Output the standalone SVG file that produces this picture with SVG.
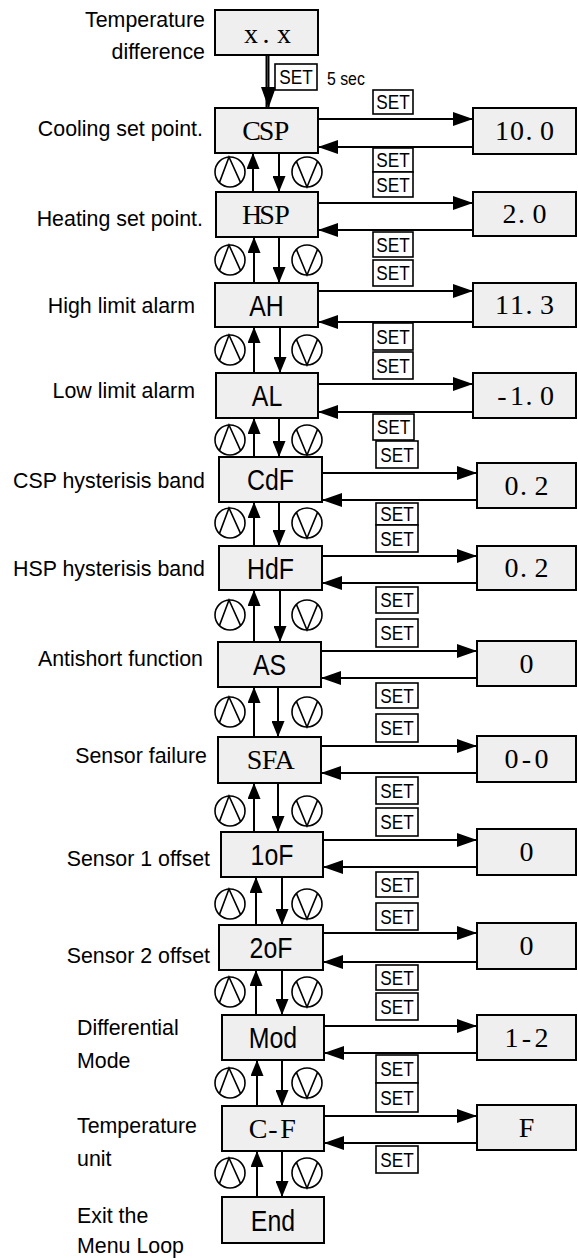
<svg xmlns="http://www.w3.org/2000/svg" xmlns:xlink="http://www.w3.org/1999/xlink" width="578" height="1258" viewBox="0 0 578 1258">
<style>
.box{fill:#efefef;stroke:#000;stroke-width:2}
.set{fill:#fff;stroke:#000;stroke-width:1.6}
.ln{stroke:#000;stroke-width:2;fill:none}
.lbl{font-family:'Liberation Sans',Arial,sans-serif;font-size:23px;fill:#000}
.end{text-anchor:end}
.nt{font-family:'Liberation Sans',Arial,sans-serif;font-size:30px;text-anchor:middle;fill:#000}
.st{font-family:'Liberation Serif','Times New Roman',serif;font-size:28px;text-anchor:middle;fill:#000}
.sett{font-family:'Liberation Sans',Arial,sans-serif;font-size:20.5px;text-anchor:middle;fill:#000}
.ic{fill:#fff;stroke:#000;stroke-width:1.6}
.icl{fill:none;stroke:#000;stroke-width:1.6}
</style>
<defs>
<marker id="ah" viewBox="0 0 20 14" refX="20" refY="7" markerWidth="20" markerHeight="14" markerUnits="userSpaceOnUse" orient="auto"><path d="M0,0 L20,7 L0,14 z" fill="#000"/></marker>
<marker id="av" viewBox="0 0 16 13" refX="16" refY="6.5" markerWidth="16" markerHeight="13" markerUnits="userSpaceOnUse" orient="auto"><path d="M0,0 L16,6.5 L0,13 z" fill="#000"/></marker>
<marker id="ab" viewBox="0 0 21 15" refX="21" refY="7.5" markerWidth="21" markerHeight="15" markerUnits="userSpaceOnUse" orient="auto"><path d="M0,0 L21,7.5 L0,15 z" fill="#000"/></marker>
<g id="upkey"><circle class="ic" cx="0" cy="0" r="15"/><path class="icl" d="M-10.6,10.6 L-1,-15 L10.6,10.6"/></g>
<g id="dnkey"><circle class="ic" cx="0" cy="0" r="15"/><path class="icl" d="M-10.6,-10.6 L0,15 L10.6,-10.6"/></g>
</defs>

<g id="labels">
<text class="lbl end" transform="translate(205,27) scale(0.93,1)">Temperature</text>
<text class="lbl end" transform="translate(205,59) scale(0.93,1)">difference</text>
<text class="lbl end" transform="translate(203,136) scale(0.93,1)">Cooling set point.</text>
<text class="lbl end" transform="translate(203,226) scale(0.93,1)">Heating set point.</text>
<text class="lbl end" transform="translate(195,313) scale(0.93,1)">High limit alarm</text>
<text class="lbl end" transform="translate(195,398) scale(0.93,1)">Low limit alarm</text>
<text class="lbl end" transform="translate(205,488) scale(0.93,1)">CSP hysterisis band</text>
<text class="lbl end" transform="translate(205,576) scale(0.93,1)">HSP hysterisis band</text>
<text class="lbl end" transform="translate(203,666) scale(0.93,1)">Antishort function</text>
<text class="lbl end" transform="translate(207,763) scale(0.93,1)">Sensor failure</text>
<text class="lbl end" transform="translate(210,866) scale(0.93,1)">Sensor 1 offset</text>
<text class="lbl end" transform="translate(210,963) scale(0.93,1)">Sensor 2 offset</text>
<text class="lbl" transform="translate(77,1035) scale(0.93,1)">Differential</text>
<text class="lbl" transform="translate(77,1068) scale(0.93,1)">Mode</text>
<text class="lbl" transform="translate(77,1133) scale(0.93,1)">Temperature</text>
<text class="lbl" transform="translate(77,1166) scale(0.93,1)">unit</text>
<text class="lbl" transform="translate(77,1223) scale(0.93,1)">Exit the</text>
<text class="lbl" transform="translate(77,1253) scale(0.93,1)">Menu Loop</text>
</g>

<g id="connectors">
<line class="ln" x1="266.5" y1="55" x2="266.5" y2="107" stroke-width="1.4"/>
<line class="ln" x1="268.5" y1="55" x2="268.5" y2="108" stroke-width="1.4" marker-end="url(#ab)"/>
<line class="ln" x1="318" y1="119" x2="473" y2="119" marker-end="url(#ah)"/>
<line class="ln" x1="473" y1="147" x2="318" y2="147" marker-end="url(#ah)"/>
<line class="ln" x1="318" y1="203" x2="473" y2="203" marker-end="url(#ah)"/>
<line class="ln" x1="473" y1="230" x2="318" y2="230" marker-end="url(#ah)"/>
<line class="ln" x1="318" y1="291" x2="473" y2="291" marker-end="url(#ah)"/>
<line class="ln" x1="473" y1="322" x2="318" y2="322" marker-end="url(#ah)"/>
<line class="ln" x1="318" y1="384" x2="473" y2="384" marker-end="url(#ah)"/>
<line class="ln" x1="473" y1="412" x2="318" y2="412" marker-end="url(#ah)"/>
<line class="ln" x1="322" y1="473" x2="477" y2="473" marker-end="url(#ah)"/>
<line class="ln" x1="477" y1="500" x2="322" y2="500" marker-end="url(#ah)"/>
<line class="ln" x1="322" y1="556" x2="477" y2="556" marker-end="url(#ah)"/>
<line class="ln" x1="477" y1="583" x2="322" y2="583" marker-end="url(#ah)"/>
<line class="ln" x1="321" y1="651" x2="477" y2="651" marker-end="url(#ah)"/>
<line class="ln" x1="477" y1="678" x2="321" y2="678" marker-end="url(#ah)"/>
<line class="ln" x1="321" y1="746" x2="477" y2="746" marker-end="url(#ah)"/>
<line class="ln" x1="477" y1="773" x2="321" y2="773" marker-end="url(#ah)"/>
<line class="ln" x1="323" y1="840" x2="477" y2="840" marker-end="url(#ah)"/>
<line class="ln" x1="477" y1="867" x2="323" y2="867" marker-end="url(#ah)"/>
<line class="ln" x1="323" y1="933" x2="477" y2="933" marker-end="url(#ah)"/>
<line class="ln" x1="477" y1="962" x2="323" y2="962" marker-end="url(#ah)"/>
<line class="ln" x1="322" y1="1026" x2="477" y2="1026" marker-end="url(#ah)"/>
<line class="ln" x1="477" y1="1053" x2="324" y2="1053" marker-end="url(#ah)"/>
<line class="ln" x1="322" y1="1116" x2="477" y2="1116" marker-end="url(#ah)"/>
<line class="ln" x1="477" y1="1143" x2="324" y2="1143" marker-end="url(#ah)"/>

<line class="ln" x1="253" y1="192" x2="253" y2="153" marker-end="url(#av)"/>
<line class="ln" x1="279" y1="153" x2="279" y2="192" marker-end="url(#av)"/>
<line class="ln" x1="254" y1="283" x2="254" y2="237" marker-end="url(#av)"/>
<line class="ln" x1="279" y1="237" x2="279" y2="283" marker-end="url(#av)"/>
<line class="ln" x1="254" y1="373" x2="254" y2="327" marker-end="url(#av)"/>
<line class="ln" x1="280" y1="327" x2="280" y2="373" marker-end="url(#av)"/>
<line class="ln" x1="254" y1="457" x2="254" y2="418" marker-end="url(#av)"/>
<line class="ln" x1="279" y1="418" x2="279" y2="457" marker-end="url(#av)"/>
<line class="ln" x1="254" y1="546" x2="254" y2="502" marker-end="url(#av)"/>
<line class="ln" x1="279" y1="502" x2="279" y2="546" marker-end="url(#av)"/>
<line class="ln" x1="254" y1="642" x2="254" y2="590" marker-end="url(#av)"/>
<line class="ln" x1="280" y1="590" x2="280" y2="642" marker-end="url(#av)"/>
<line class="ln" x1="254" y1="737" x2="254" y2="687" marker-end="url(#av)"/>
<line class="ln" x1="278" y1="687" x2="278" y2="737" marker-end="url(#av)"/>
<line class="ln" x1="254" y1="832" x2="254" y2="783" marker-end="url(#av)"/>
<line class="ln" x1="278" y1="783" x2="278" y2="832" marker-end="url(#av)"/>
<line class="ln" x1="256" y1="925" x2="256" y2="877" marker-end="url(#av)"/>
<line class="ln" x1="282" y1="877" x2="282" y2="925" marker-end="url(#av)"/>
<line class="ln" x1="256" y1="1015" x2="256" y2="970" marker-end="url(#av)"/>
<line class="ln" x1="282" y1="970" x2="282" y2="1015" marker-end="url(#av)"/>
<line class="ln" x1="257" y1="1106" x2="257" y2="1060" marker-end="url(#av)"/>
<line class="ln" x1="282" y1="1060" x2="282" y2="1106" marker-end="url(#av)"/>
<line class="ln" x1="257" y1="1197" x2="257" y2="1151" marker-end="url(#av)"/>
<line class="ln" x1="282" y1="1151" x2="282" y2="1197" marker-end="url(#av)"/>
</g>

<g id="keys">
<use xlink:href="#upkey" x="230" y="172"/><use xlink:href="#dnkey" x="307" y="172"/>
<use xlink:href="#upkey" x="230" y="260"/><use xlink:href="#dnkey" x="307" y="260"/>
<use xlink:href="#upkey" x="230" y="350"/><use xlink:href="#dnkey" x="307" y="350"/>
<use xlink:href="#upkey" x="230" y="440"/><use xlink:href="#dnkey" x="307" y="440"/>
<use xlink:href="#upkey" x="230" y="523"/><use xlink:href="#dnkey" x="307" y="523"/>
<use xlink:href="#upkey" x="230" y="615"/><use xlink:href="#dnkey" x="307" y="615"/>
<use xlink:href="#upkey" x="230" y="712"/><use xlink:href="#dnkey" x="307" y="712"/>
<use xlink:href="#upkey" x="230" y="811"/><use xlink:href="#dnkey" x="307" y="811"/>
<use xlink:href="#upkey" x="230" y="904"/><use xlink:href="#dnkey" x="307" y="904"/>
<use xlink:href="#upkey" x="230" y="992"/><use xlink:href="#dnkey" x="307" y="992"/>
<use xlink:href="#upkey" x="230" y="1083"/><use xlink:href="#dnkey" x="307" y="1083"/>
<use xlink:href="#upkey" x="230" y="1173"/><use xlink:href="#dnkey" x="307" y="1173"/>
</g>

<g id="set-tags">
<rect class="set" x="275" y="64" width="42" height="26"/><text class="sett" transform="translate(296,84.3) scale(0.84,1)">SET</text>
<text class="lbl" transform="translate(327,85) scale(0.88,1)" style="font-size:18px">5 sec</text>
<rect class="set" x="373" y="90" width="40" height="24"/><text class="sett" transform="translate(393,109.3) scale(0.84,1)">SET</text>
<rect class="set" x="373" y="148" width="40" height="24"/><text class="sett" transform="translate(393,167.3) scale(0.84,1)">SET</text>
<rect class="set" x="373" y="172" width="40" height="25"/><text class="sett" transform="translate(393,191.8) scale(0.84,1)">SET</text>
<rect class="set" x="373" y="232" width="40" height="25"/><text class="sett" transform="translate(393,251.8) scale(0.84,1)">SET</text>
<rect class="set" x="373" y="260" width="40" height="26"/><text class="sett" transform="translate(393,280.3) scale(0.84,1)">SET</text>
<rect class="set" x="373" y="323" width="40" height="27"/><text class="sett" transform="translate(393,343.8) scale(0.84,1)">SET</text>
<rect class="set" x="373" y="352" width="40" height="27"/><text class="sett" transform="translate(393,372.8) scale(0.84,1)">SET</text>
<rect class="set" x="373" y="414" width="41" height="26"/><text class="sett" transform="translate(393.5,434.3) scale(0.84,1)">SET</text>
<rect class="set" x="376" y="441" width="42" height="27"/><text class="sett" transform="translate(397,461.8) scale(0.84,1)">SET</text>
<rect class="set" x="376" y="503" width="42" height="22"/><text class="sett" transform="translate(397,521.3) scale(0.84,1)">SET</text>
<rect class="set" x="376" y="525" width="42" height="27"/><text class="sett" transform="translate(397,545.8) scale(0.84,1)">SET</text>
<rect class="set" x="376" y="587" width="42" height="26"/><text class="sett" transform="translate(397,607.3) scale(0.84,1)">SET</text>
<rect class="set" x="376" y="619" width="42" height="28"/><text class="sett" transform="translate(397,640.3) scale(0.84,1)">SET</text>
<rect class="set" x="376" y="683" width="42" height="25"/><text class="sett" transform="translate(397,702.8) scale(0.84,1)">SET</text>
<rect class="set" x="376" y="714" width="42" height="28"/><text class="sett" transform="translate(397,735.3) scale(0.84,1)">SET</text>
<rect class="set" x="376" y="777" width="42" height="27"/><text class="sett" transform="translate(397,797.8) scale(0.84,1)">SET</text>
<rect class="set" x="376" y="808" width="42" height="28"/><text class="sett" transform="translate(397,829.3) scale(0.84,1)">SET</text>
<rect class="set" x="376" y="872" width="42" height="25"/><text class="sett" transform="translate(397,891.8) scale(0.84,1)">SET</text>
<rect class="set" x="376" y="903" width="42" height="27"/><text class="sett" transform="translate(397,923.8) scale(0.84,1)">SET</text>
<rect class="set" x="376" y="965" width="42" height="25"/><text class="sett" transform="translate(397,984.8) scale(0.84,1)">SET</text>
<rect class="set" x="376" y="993" width="42" height="27"/><text class="sett" transform="translate(397,1013.8) scale(0.84,1)">SET</text>
<rect class="set" x="376" y="1055" width="42" height="28"/><text class="sett" transform="translate(397,1076.3) scale(0.84,1)">SET</text>
<rect class="set" x="376" y="1083" width="42" height="29"/><text class="sett" transform="translate(397,1104.8) scale(0.84,1)">SET</text>
<rect class="set" x="376" y="1146" width="42" height="27"/><text class="sett" transform="translate(397,1166.8) scale(0.84,1)">SET</text>
</g>

<g id="node-xx"><rect class="box" x="215" y="10" width="103" height="45"/><text class="st" x="251 266 284" y="43">x.x</text></g>
<g id="node-csp"><rect class="box" x="215" y="108" width="103" height="45"/><text class="st" x="251.5 266.5 281.5" y="139.5">CSP</text></g>
<g id="node-hsp"><rect class="box" x="216" y="192" width="102" height="45"/><text class="st" x="252 267 282" y="223.5">HSP</text></g>
<g id="node-ah"><rect class="box" x="215" y="283" width="103" height="44"/><text class="nt" transform="translate(266.5,316) scale(0.83,1)">AH</text></g>
<g id="node-al"><rect class="box" x="216" y="373" width="102" height="45"/><text class="nt" transform="translate(267,406) scale(0.83,1)">AL</text></g>
<g id="node-cdf"><rect class="box" x="219" y="457" width="103" height="45"/><text class="nt" transform="translate(270.5,490) scale(0.83,1)">CdF</text></g>
<g id="node-hdf"><rect class="box" x="219" y="546" width="103" height="44"/><text class="nt" transform="translate(270.5,579) scale(0.83,1)">HdF</text></g>
<g id="node-as"><rect class="box" x="218" y="642" width="103" height="45"/><text class="nt" transform="translate(269.5,675) scale(0.83,1)">AS</text></g>
<g id="node-sfa"><rect class="box" x="218" y="737" width="103" height="46"/><text class="st" x="254.5 269.5 284.5" y="769">SFA</text></g>
<g id="node-1of"><rect class="box" x="221" y="832" width="102" height="45"/><text class="nt" transform="translate(272,865) scale(0.83,1)">1oF</text></g>
<g id="node-2of"><rect class="box" x="219" y="925" width="104" height="45"/><text class="nt" transform="translate(271,958) scale(0.83,1)">2oF</text></g>
<g id="node-mod"><rect class="box" x="222" y="1015" width="102" height="45"/><text class="nt" transform="translate(273,1048) scale(0.83,1)">Mod</text></g>
<g id="node-cf"><rect class="box" x="222" y="1106" width="102" height="45"/><text class="st" x="258 273 288" y="1137.5">C-F</text></g>
<g id="node-end"><rect class="box" x="222" y="1197" width="102" height="46"/><text class="nt" transform="translate(273,1231) scale(0.83,1)">End</text></g>

<g id="val-csp"><rect class="box" x="473" y="108" width="103" height="46"/><text class="st" x="502 517 529 547" y="140">10.0</text></g>
<g id="val-hsp"><rect class="box" x="473" y="192" width="103" height="44"/><text class="st" x="509.5 521.5 539.5" y="223">2.0</text></g>
<g id="val-ah"><rect class="box" x="473" y="283" width="103" height="44"/><text class="st" x="502 517 529 547" y="314">11.3</text></g>
<g id="val-al"><rect class="box" x="473" y="373" width="103" height="45"/><text class="st" x="502 517 529 547" y="404.5">-1.0</text></g>
<g id="val-cdf"><rect class="box" x="477" y="463" width="99" height="45"/><text class="st" x="511.5 523.5 541.5" y="494.5">0.2</text></g>
<g id="val-hdf"><rect class="box" x="477" y="546" width="99" height="44"/><text class="st" x="511.5 523.5 541.5" y="577">0.2</text></g>
<g id="val-as"><rect class="box" x="477" y="641" width="99" height="45"/><text class="st" x="526.5" y="672.5">0</text></g>
<g id="val-sfa"><rect class="box" x="477" y="736" width="99" height="46"/><text class="st" x="511.5 526.5 541.5" y="768">0-0</text></g>
<g id="val-1of"><rect class="box" x="477" y="829" width="99" height="46"/><text class="st" x="526.5" y="861">0</text></g>
<g id="val-2of"><rect class="box" x="477" y="923" width="99" height="46"/><text class="st" x="526.5" y="955">0</text></g>
<g id="val-mod"><rect class="box" x="477" y="1015" width="99" height="45"/><text class="st" x="511.5 526.5 541.5" y="1046.5">1-2</text></g>
<g id="val-cf"><rect class="box" x="477" y="1105" width="99" height="45"/><text class="st" x="526.5" y="1136.5">F</text></g>
</svg>
